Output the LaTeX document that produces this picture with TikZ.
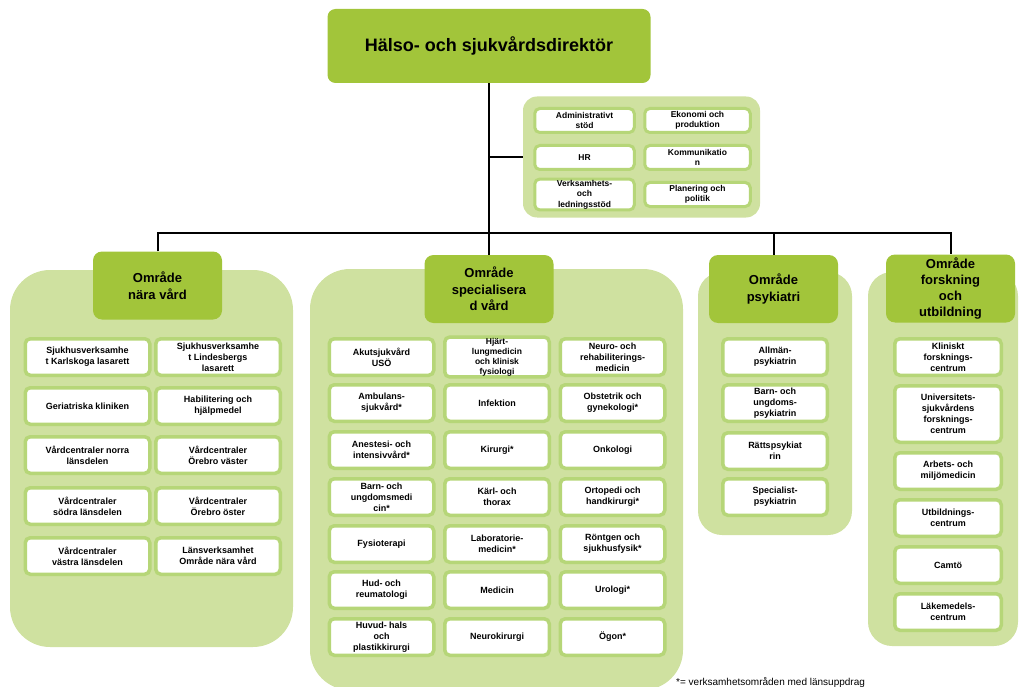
\documentclass[tikz,border=0pt]{standalone}
\usepackage{fontspec}
\setmainfont{Liberation Sans}
\usepackage{tikz}

\definecolor{leaf}{HTML}{A2C53A}
\definecolor{pale}{HTML}{CFE1A0}
\definecolor{rim}{HTML}{B6D678}

\begin{document}
\begin{tikzpicture}[x=1pt,y=-1pt]
  % Styles
  \tikzstyle{boss}=[fill=leaf,rounded corners=8pt,minimum width=323pt,minimum height=74pt,align=center,font=\fontsize{18}{22}\selectfont\bfseries]
  \tikzstyle{area}=[fill=leaf,rounded corners=9pt,minimum width=129pt,minimum height=68pt,inner sep=1pt,align=center,font=\fontsize{13}{16.5}\selectfont\bfseries]
  \tikzstyle{panel}=[fill=pale,inner sep=0pt]
  \tikzstyle{unit}=[draw=rim,line width=3.5pt,fill=white,rounded corners=5pt,minimum height=36.5pt,inner sep=1pt,align=center,font=\fontsize{9}{11}\selectfont\bfseries]
  \tikzstyle{staffunit}=[unit,line width=3pt,minimum height=24pt,font=\fontsize{8.5}{10.5}\selectfont\bfseries]
  \tikzstyle{conn}=[line width=2pt]

  \useasboundingbox (0,0) rectangle (1019,687);
  \clip (0,0) rectangle (1019,687);

  % Background panels
  \node[panel,rounded corners=14pt,minimum width=237pt,minimum height=121pt] (staff) at (641.5,157) {};
  \node[panel,rounded corners=40pt,minimum width=283pt,minimum height=377pt] (naraBg) at (151.5,458.5) {};
  \node[panel,rounded corners=40pt,minimum width=373pt,minimum height=421pt] (specBg) at (496.5,479.5) {};
  \node[panel,rounded corners=24pt,minimum width=154pt,minimum height=263pt] (psykBg) at (775,403.5) {};
  \node[panel,rounded corners=24pt,minimum width=150pt,minimum height=374pt] (forskBg) at (943,459) {};

  % Director and areas
  \node[boss] (boss) at (489,46) {Hälso- och sjukvårdsdirektör};
  \node[area] (nara) at (157.5,285.5) {Område\\nära vård};
  \node[area] (spec) at (489,289) {Område\\specialisera\\d vård};
  \node[area] (psyk) at (773.5,289) {Område\\psykiatri};
  \node[area,font=\fontsize{13}{16}\selectfont\bfseries] (forsk) at (950.5,288.5) {Område\\forskning\\och\\utbildning};

  % Staff units
  \node[staffunit,minimum width=99.5pt] (adm) at (584.5,120.5) {Administrativt\\stöd};
  \node[staffunit,minimum width=105.5pt] (eko) at (697.5,120.5) {Ekonomi och\\produktion};
  \node[staffunit,minimum width=99.5pt] (hr) at (584.5,157.5) {HR};
  \node[staffunit,minimum width=105.5pt] (komm) at (697.5,157.5) {Kommunikatio\\n};
  \node[staffunit,minimum width=99.5pt] (vls) at (584.5,194.5) {Verksamhets-\\och\\ledningsstöd};
  \node[staffunit,minimum width=105.5pt] (plan) at (697.5,194.5) {Planering och\\politik};

  % Område nära vård
  \node[unit,minimum width=124.5pt] (karl) at (87.5,357) {Sjukhusverksamhe\\t Karlskoga lasarett};
  \node[unit,minimum width=124.5pt] (lind) at (218,357) {Sjukhusverksamhe\\t Lindesbergs\\lasarett};
  \node[unit,minimum width=124.5pt] (geri) at (87.5,406) {Geriatriska kliniken};
  \node[unit,minimum width=124.5pt] (habi) at (218,406) {Habilitering och\\hjälpmedel};
  \node[unit,minimum width=124.5pt] (vcnorr) at (87.5,455) {Vårdcentraler norra\\länsdelen};
  \node[unit,minimum width=124.5pt] (vcvast) at (218,455) {Vårdcentraler\\Örebro väster};
  \node[unit,minimum width=124.5pt] (vcsod) at (87.5,506) {Vårdcentraler\\södra länsdelen};
  \node[unit,minimum width=124.5pt] (vcost) at (218,506) {Vårdcentraler\\Örebro öster};
  \node[unit,minimum width=124.5pt] (vcvas) at (87.5,556) {Vårdcentraler\\västra länsdelen};
  \node[unit,minimum width=124.5pt] (lans) at (218,556) {Länsverksamhet\\Område nära vård};

  % Område specialiserad vård
  \node[unit,minimum width=104.5pt] (akut) at (381.5,357) {Akutsjukvård\\USÖ};
  \node[unit,minimum width=104.5pt] (ambu) at (381.5,403) {Ambulans-\\sjukvård*};
  \node[unit,minimum width=104.5pt] (anes) at (381.5,450) {Anestesi- och\\intensivvård*};
  \node[unit,minimum width=104.5pt] (barn) at (381.5,497) {Barn- och\\ungdomsmedi\\cin*};
  \node[unit,minimum width=104.5pt] (fysio) at (381.5,544) {Fysioterapi};
  \node[unit,minimum width=104.5pt] (hud) at (381.5,590) {Hud- och\\reumatologi};
  \node[unit,minimum width=104.5pt] (huvud) at (381.5,637) {Huvud- hals\\och\\plastikkirurgi};
  \node[unit,minimum width=104.5pt,font=\fontsize{8.5}{10}\selectfont\bfseries] (hjart) at (497,357) {Hjärt-\\lungmedicin\\och klinisk\\fysiologi};
  \node[unit,minimum width=104.5pt] (infek) at (497,403) {Infektion};
  \node[unit,minimum width=104.5pt] (kir) at (497,450) {Kirurgi*};
  \node[unit,minimum width=104.5pt] (karl2) at (497,497) {Kärl- och\\thorax};
  \node[unit,minimum width=104.5pt] (lab) at (497,544) {Laboratorie-\\medicin*};
  \node[unit,minimum width=104.5pt] (med) at (497,590) {Medicin};
  \node[unit,minimum width=104.5pt] (neurokir) at (497,637) {Neurokirurgi};
  \node[unit,minimum width=104.5pt] (neuro) at (612.5,357) {Neuro- och\\rehabiliterings-\\medicin};
  \node[unit,minimum width=104.5pt] (obst) at (612.5,403) {Obstetrik och\\gynekologi*};
  \node[unit,minimum width=104.5pt] (onko) at (612.5,450) {Onkologi};
  \node[unit,minimum width=104.5pt] (orto) at (612.5,497) {Ortopedi och\\handkirurgi*};
  \node[unit,minimum width=104.5pt] (ront) at (612.5,544) {Röntgen och\\sjukhusfysik*};
  \node[unit,minimum width=104.5pt] (uro) at (612.5,590) {Urologi*};
  \node[unit,minimum width=104.5pt] (ogon) at (612.5,637) {Ögon*};

  % Område psykiatri
  \node[unit,minimum width=104.5pt] (allm) at (775,357) {Allmän-\\psykiatrin};
  \node[unit,minimum width=104.5pt] (bup) at (775,403) {Barn- och\\ungdoms-\\psykiatrin};
  \node[unit,minimum width=104.5pt] (ratt) at (775,451) {Rättspsykiat\\rin};
  \node[unit,minimum width=104.5pt] (spsyk) at (775,497) {Specialist-\\psykiatrin};

  % Område forskning och utbildning
  \node[unit,minimum width=106.5pt] (kfc) at (948,357) {Kliniskt\\forsknings-\\centrum};
  \node[unit,minimum width=106.5pt,minimum height=56.5pt] (usfc) at (948,414) {Universitets-\\sjukvårdens\\forsknings-\\centrum};
  \node[unit,minimum width=106.5pt] (arbm) at (948,471) {Arbets- och\\miljömedicin};
  \node[unit,minimum width=106.5pt] (utb) at (948,518) {Utbildnings-\\centrum};
  \node[unit,minimum width=106.5pt] (camto) at (948,565) {Camtö};
  \node[unit,minimum width=106.5pt] (lakm) at (948,612) {Läkemedels-\\centrum};

  % Connections
  \coordinate (bus) at (0,233);
  \draw[conn] (boss.south) -- (boss.south |- bus);
  \draw[conn] (boss.south |- staff.west) -- (staff.west);
  \draw[conn] (nara.north) |- (forsk.north |- bus) -- (forsk.north);
  \draw[conn] (spec.north) -- (spec.north |- bus);
  \draw[conn] (psyk.north) -- (psyk.north |- bus);

  % Footnote
  \node[anchor=west,inner sep=0pt,font=\fontsize{10}{12}\selectfont] (note) at (676,682) {*= verksamhetsområden med länsuppdrag};
\end{tikzpicture}
\end{document}
